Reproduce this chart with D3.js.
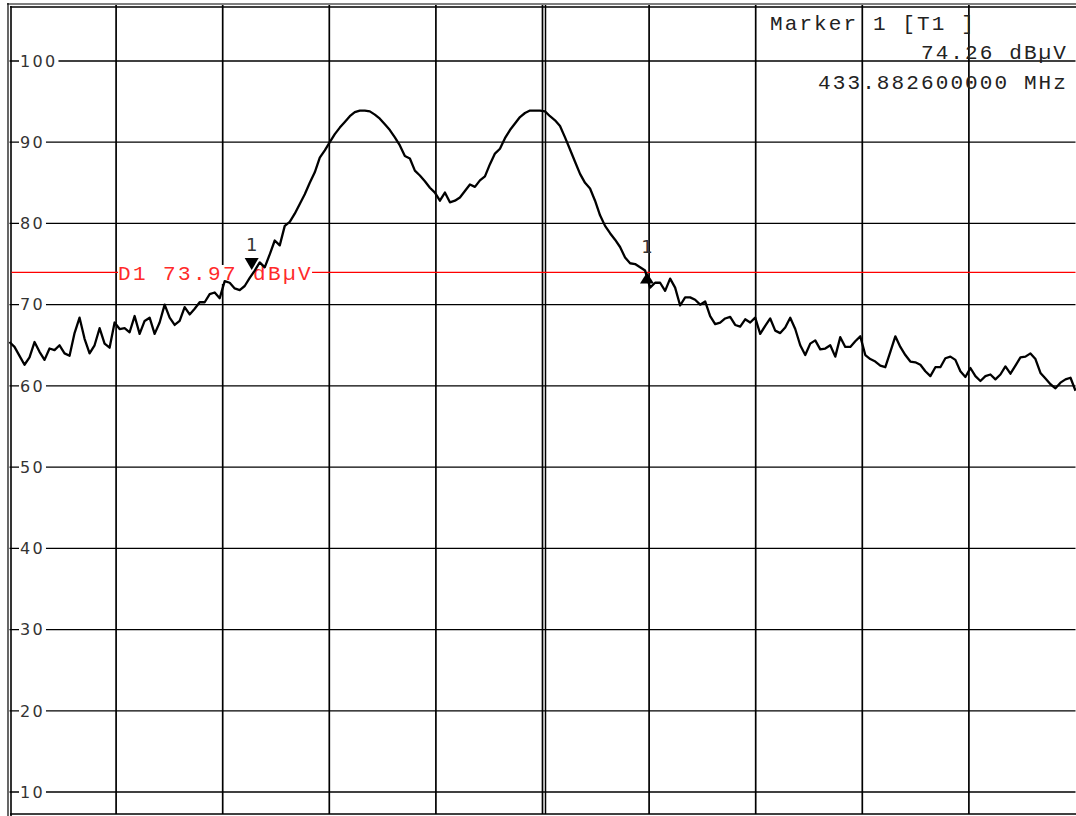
<!DOCTYPE html>
<html>
<head>
<meta charset="utf-8">
<script src="https://cdn.jsdelivr.net/npm/d3@7"></script>
<style>
  html, body { margin: 0; padding: 0; background: #fff; }
  svg { display: block; }
</style>
</head>
<body>
<svg id="chart" width="1076" height="816"></svg>
<script>
// trace level in dBuV, one value per sweep point
var levels = [
  65.4, 64.8, 63.7, 62.6, 63.5, 65.4, 64.2, 63.2, 64.6, 64.4,
  65.0, 64.0, 63.7, 66.5, 68.4, 65.8, 64.0, 65.0, 67.1, 65.2,
  64.7, 67.8, 67.0, 67.1, 66.6, 68.6, 66.4, 68.0, 68.4, 66.4,
  67.8, 70.0, 68.4, 67.5, 68.0, 69.7, 68.8, 69.5, 70.3, 70.3,
  71.3, 71.5, 70.8, 72.9, 72.7, 72.0, 71.8, 72.3, 73.3, 74.2,
  75.2, 74.6, 76.2, 77.9,
  77.3, 79.7, 80.2, 81.2, 82.4, 83.6, 85.0, 86.3, 88.1, 89.0,
  90.0, 91.0, 91.8, 92.5, 93.2, 93.7, 93.9, 93.9, 93.8, 93.4,
  92.9, 92.2, 91.5, 90.6, 89.6, 88.3, 88.0, 86.5, 85.9, 85.2,
  84.4, 83.8, 82.8, 83.8, 82.6, 82.8, 83.2, 84.0, 84.8, 84.5,
  85.3, 85.8, 87.3, 88.6, 89.2, 90.5, 91.5, 92.3, 93.1, 93.6,
  93.9, 93.9, 93.9, 93.8,
  93.2, 92.7, 92.0, 90.6, 89.1, 87.6, 86.1, 85.0, 84.3, 82.8,
  81.0, 79.7, 78.8, 78.0, 77.1, 75.8, 75.1, 75.0, 74.6, 74.2,
  72.1, 72.7, 72.7, 71.7, 73.2, 72.1, 69.9, 70.9, 70.9, 70.6,
  70.0, 70.4, 68.6, 67.6, 67.8, 68.3, 68.5, 67.5, 67.3, 68.2,
  67.8, 68.4, 66.4, 67.4, 68.3, 66.8, 66.5, 67.2, 68.4, 67.0,
  65.0, 63.8, 65.2,
  65.6, 64.5, 64.6, 65.0, 63.6, 66.0, 64.8, 64.8, 65.5, 66.1,
  63.8, 63.3, 63.0, 62.5, 62.3, 64.2, 66.1, 64.8, 63.8, 63.0,
  62.9, 62.6, 61.8, 61.2, 62.3, 62.3, 63.4, 63.6, 63.2, 61.8,
  61.1, 62.2, 61.2, 60.6, 61.2, 61.4, 60.8, 61.4, 62.4, 61.5,
  62.5, 63.5, 63.6, 64.0, 63.3, 61.6, 60.9, 60.2, 59.7, 60.4,
  60.8, 61.0, 59.4
];
var fStart = 433.769, fStop = 434.269;   // MHz
var yTicks = [100, 90, 80, 70, 60, 50, 40, 30, 20, 10];
var displayLine = 73.97;
var displayLabel = 'D1 73.97 dB\u00b5V';
var markerFreqs = [433.8826, 434.068];
var markerLevels = [74.26, 73.97];
var markerDirs = ['down', 'up'];
var markerNames = ['1', '1'];
var markerInfo = ['Marker 1 [T1 ]', '74.26 dB\u00b5V', '433.882600000 MHz'];

var plotL = 9.5, plotR = 1075.5, plotT = 5, plotB = 814;
var monoFont = '"Liberation Mono", "Courier New", monospace';
var sansFont = '"DejaVu Sans", sans-serif';

var svg = d3.select('#chart');
var x = d3.scaleLinear().domain([fStart, fStop]).range([plotL, plotR]);
var y = d3.scaleLinear().domain([10, 100]).range([792, 61]);

var freqs = d3.range(levels.length).map(function(i) {
  return fStart + i * (fStop - fStart) / (levels.length - 1);
});
var divs = d3.range(11).map(function(k) { return fStart + k * (fStop - fStart) / 10; });

// grid
var grid = svg.append('g');
grid.selectAll('line.v').data(divs.slice(1, 10)).enter().append('line')
  .attr('x1', function(d) { return x(d); })
  .attr('x2', function(d) { return x(d); })
  .attr('y1', plotT).attr('y2', plotB)
  .attr('stroke', '#000').attr('stroke-width', 1.7);
// center line is doubled
grid.append('line')
  .attr('x1', x(divs[5]) + 3).attr('x2', x(divs[5]) + 3)
  .attr('y1', plotT).attr('y2', plotB)
  .attr('stroke', '#000').attr('stroke-width', 1.5);
grid.selectAll('line.h').data(yTicks).enter().append('line')
  .attr('x1', plotL).attr('x2', plotR)
  .attr('y1', function(d) { return y(d); })
  .attr('y2', function(d) { return y(d); })
  .attr('stroke', '#000').attr('stroke-width', 1.3);

// frame
grid.append('line').attr('x1', 8).attr('x2', 8).attr('y1', 3).attr('y2', 816)
  .attr('stroke', '#000').attr('stroke-width', 1.2);
grid.append('line').attr('x1', 11).attr('x2', 11).attr('y1', 6).attr('y2', 816)
  .attr('stroke', '#000').attr('stroke-width', 1.6);
grid.append('line').attr('x1', 7).attr('x2', 1076).attr('y1', 4).attr('y2', 4)
  .attr('stroke', '#000').attr('stroke-width', 1.2);
grid.append('line').attr('x1', 10).attr('x2', 1076).attr('y1', 7).attr('y2', 7)
  .attr('stroke', '#000').attr('stroke-width', 1.6);
grid.append('line').attr('x1', 10).attr('x2', 1076).attr('y1', plotB).attr('y2', plotB)
  .attr('stroke', '#000').attr('stroke-width', 1.6);

// level labels, on a white patch over the grid line
var tl = svg.append('g');
yTicks.forEach(function(v) {
  var t = tl.append('text')
    .attr('x', 20).attr('y', y(v))
    .attr('dy', '0.36em')
    .attr('font-family', sansFont).attr('font-size', 16)
    .attr('letter-spacing', 2.3)
    .attr('fill', '#333')
    .text(v);
  var b = t.node().getBBox();
  tl.insert('rect', function() { return t.node(); })
    .attr('x', b.x - 1).attr('y', b.y)
    .attr('width', b.width + 2).attr('height', b.height)
    .attr('fill', '#fff');
});

// display line D1
svg.append('line')
  .attr('x1', plotL + 2).attr('x2', plotR)
  .attr('y1', y(displayLine)).attr('y2', y(displayLine))
  .attr('stroke', '#ff0000').attr('stroke-width', 1.2);
var dl = svg.append('text')
  .attr('x', 118).attr('y', y(displayLine))
  .attr('dy', '0.36em')
  .attr('font-family', monoFont).attr('font-size', 21)
  .attr('letter-spacing', 2.4)
  .attr('fill', '#ff2a2a')
  .text(displayLabel);
var db = dl.node().getBBox();
svg.insert('rect', function() { return dl.node(); })
  .attr('x', db.x).attr('y', db.y + 2)
  .attr('width', db.width - 1).attr('height', db.height - 4)
  .attr('fill', '#fff');

// trace
var line = d3.line()
  .x(function(d, i) { return x(freqs[i]); })
  .y(function(d) { return y(d); });
svg.append('path')
  .datum(levels)
  .attr('d', line)
  .attr('fill', 'none')
  .attr('stroke', '#000')
  .attr('stroke-width', 2.3)
  .attr('stroke-linejoin', 'round');

// markers
markerFreqs.forEach(function(f, i) {
  var mx = x(f), my = y(markerLevels[i]);
  var d = markerDirs[i] == 'down'
    ? 'M' + (mx - 7) + ',' + (my - 12) + 'L' + (mx + 7) + ',' + (my - 12) + 'L' + mx + ',' + my + 'Z'
    : 'M' + mx + ',' + my + 'L' + (mx + 7) + ',' + (my + 11) + 'L' + (mx - 7) + ',' + (my + 11) + 'Z';
  svg.append('path').attr('d', d).attr('fill', '#000');
  svg.append('text')
    .attr('x', mx).attr('y', my - 19)
    .attr('text-anchor', 'middle')
    .attr('font-family', sansFont).attr('font-size', 18)
    .attr('fill', '#333')
    .text(markerNames[i]);
});

// marker readout
svg.append('text')
  .attr('x', 770).attr('y', 30)
  .attr('font-family', monoFont).attr('font-size', 21)
  .attr('letter-spacing', 2.1)
  .attr('fill', '#222')
  .attr('xml:space', 'preserve')
  .style('white-space', 'pre')
  .text(markerInfo[0]);
[markerInfo[1], markerInfo[2]].forEach(function(s, i) {
  svg.append('text')
    .attr('x', 1068).attr('y', 59 + i * 30)
    .attr('text-anchor', 'end')
    .attr('font-family', monoFont).attr('font-size', 21)
    .attr('letter-spacing', 2.1)
    .attr('fill', '#222')
    .text(s);
});
</script>
</body>
</html>
